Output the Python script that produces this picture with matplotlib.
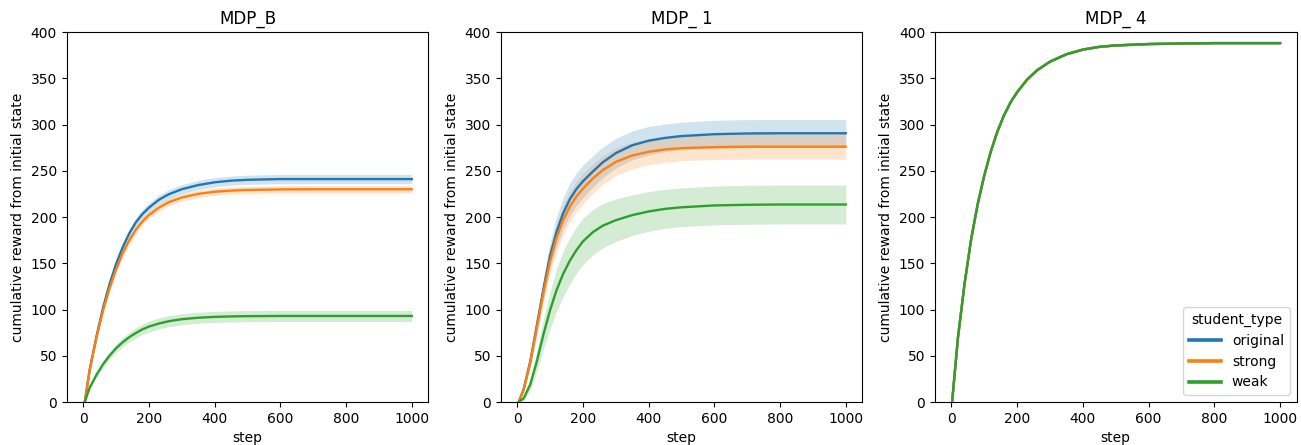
import numpy as np
import matplotlib
matplotlib.use('Agg')
import matplotlib.pyplot as plt

# values
student_types = ['original', 'strong', 'weak']
colors = ['#1f77b4', '#ff7f0e', '#2ca02c']
titles = ['MDP_B', 'MDP_ 1', 'MDP_ 4']

steps = [5, 20, 40, 60, 80, 100, 120, 140, 160, 180, 200, 230, 260, 300, 350, 400, 450, 500, 600, 700, 800, 1000]
steps_4 = [2, 20, 40, 60, 80, 100, 120, 140, 160, 180, 200, 230, 260, 300, 350, 400, 450, 500, 600, 700, 800, 1000]

# MDP_B
b_original = [0, 35, 70, 101, 127, 149, 167, 182, 194, 203, 210, 218.5, 224.5, 230, 234.5, 237.5, 239.3, 240.2, 241, 241, 241, 241]
b_strong = [0, 34.5, 68.5, 98, 122.5, 143, 160.5, 174.5, 186, 195, 202, 210, 216, 221, 225, 227.3, 228.5, 229.2, 229.8, 230, 230, 230]
b_weak = [0, 15.5, 29, 40.5, 50, 58, 64.5, 70, 74.5, 78.5, 81.5, 84.8, 87.3, 89.5, 91.1, 92, 92.5, 92.8, 93, 93, 93, 93]
b_original_ci = [0, 1.5, 2.5, 3, 3.5, 4, 4.5, 4.5, 5, 5, 5, 5, 5, 5, 5, 5, 5, 5, 5, 5, 5, 5]
b_strong_ci = [0, 1.5, 2.5, 3, 3.5, 3.5, 4, 4, 4, 4, 4, 4, 4, 4, 4, 4, 4, 4, 4, 4, 4, 4]
b_weak_ci = [0, 1.5, 2.5, 3.5, 4, 4.5, 5, 5, 5.5, 5.5, 6, 6, 6, 6, 6, 6, 6, 6, 6, 6, 6, 6]

# MDP_1
m1_original = [0, 14, 44, 83, 122, 158, 184, 204, 219, 230, 238.5, 249, 259, 269, 277.5, 282.5, 285.5, 287.5, 289.5, 290.3, 290.5, 290.5]
m1_strong = [0, 13.5, 42.5, 80.5, 118, 152, 177.5, 196.5, 211, 222, 230.5, 241.5, 250.5, 259.5, 266.5, 270.5, 273, 274.5, 275.5, 276, 276, 276]
m1_weak = [0, 4, 19, 44, 73, 99, 121, 138.5, 152.5, 164, 173.5, 183.5, 190.5, 196.5, 202, 206, 208.8, 210.5, 212.5, 213.2, 213.5, 213.5]
m1_original_ci = [0, 2, 5, 9, 12, 14, 16, 17, 17.5, 17.5, 17.5, 17, 16.5, 16, 15.5, 15.5, 15, 15, 15, 15, 15, 15]
m1_strong_ci = [0, 2, 5, 8, 11, 13, 15, 16, 16.5, 16.5, 16.5, 16, 15.5, 15, 14.5, 14, 14, 13.5, 13.5, 13.5, 13.5, 13.5]
m1_weak_ci = [0, 2, 6, 11, 16, 20, 23, 24.5, 25, 25, 25, 24.5, 24, 23, 22, 21.5, 21, 21, 21, 21, 21, 21]

# MDP_4 (the three student types lie on top of each other)
m4_original = [0, 70, 128, 176, 214, 245, 271, 292.5, 310, 324, 335, 348.5, 358.5, 368, 376, 381, 384, 385.5, 387, 387.6, 388, 388]
m4_strong = [0, 70, 128, 176, 214, 245, 271, 292.5, 310, 324, 335, 348.5, 358.5, 368, 376, 381, 384, 385.5, 387, 387.6, 388, 388]
m4_weak = [0, 70, 128, 176, 214, 245, 271, 292.5, 310, 324, 335, 348.5, 358.5, 368, 376, 381, 384, 385.5, 387, 387.6, 388, 388]
m4_ci = [0, 0.5, 0.8, 1, 1, 1, 1, 1, 1, 1, 1, 1, 1, 1, 1, 1, 1, 1, 1, 1, 1, 1]

panels = [
    (steps, [b_original, b_strong, b_weak], [b_original_ci, b_strong_ci, b_weak_ci]),
    (steps, [m1_original, m1_strong, m1_weak], [m1_original_ci, m1_strong_ci, m1_weak_ci]),
    (steps_4, [m4_original, m4_strong, m4_weak], [m4_ci, m4_ci, m4_ci]),
]

fig = plt.figure(figsize=(13.01, 4.45), dpi=100)
lefts = [66.7 / 1301, 500.7 / 1301, 935 / 1301]

for i, (x, series, cis) in enumerate(panels):
    ax = fig.add_axes([lefts[i], 1 - 402 / 445, 361.5 / 1301, 370 / 445])
    x = np.array(x)
    for name, col, y, ci in zip(student_types, colors, series, cis):
        y = np.array(y)
        ci = np.array(ci)
        ax.fill_between(x, y - ci, y + ci, color=col, alpha=0.2, lw=0)
        ax.plot(x, y, color=col, lw=1.7, label=name)
    ax.set_xlim(-50, 1050)
    ax.set_ylim(0, 400)
    ax.set_title(titles[i], fontsize=12)
    ax.set_xlabel('step')
    ax.set_ylabel('cumulative reward from initial state')
    if i == 2:
        leg = ax.legend(title='student_type', loc='lower right', handlelength=2.3)
        for h in leg.get_lines():
            h.set_linewidth(2.6)

fig.savefig('out.png', dpi=100)
